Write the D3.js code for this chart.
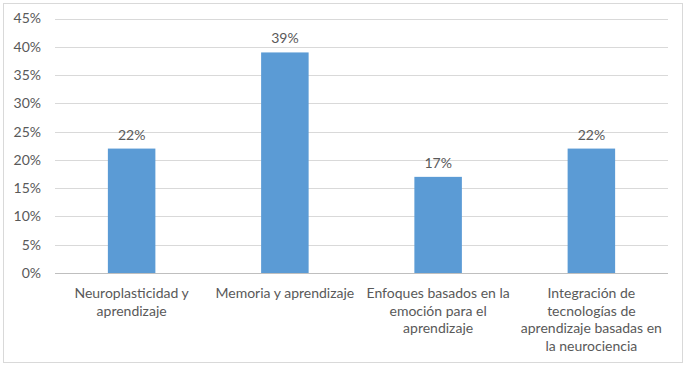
<!DOCTYPE html>
<html><head><meta charset="utf-8">
<script src="https://cdn.jsdelivr.net/npm/d3@7"></script>
<style>body{margin:0;background:#fff}svg text{font-family:Lato,"Open Sans",sans-serif;fill:#595959}</style>
</head><body>
<svg id="c" width="686" height="367"></svg>
<script>
const categories = ["Neuroplasticidad y aprendizaje","Memoria y aprendizaje","Enfoques basados en la emoción para el aprendizaje","Integración de tecnologías de aprendizaje basadas en la neurociencia"];
const categoryLines = [["Neuroplasticidad y","aprendizaje"],["Memoria y aprendizaje"],["Enfoques basados en la","emoción para el","aprendizaje"],["Integración de","tecnologías de","aprendizaje basadas en","la neurociencia"]];
const values = [0.22,0.39,0.17,0.22];
const yTicks = [0,0.05,0.10,0.15,0.20,0.25,0.30,0.35,0.40,0.45];

const svg = d3.select("#c");
svg.append("rect").attr("x",3.5).attr("y",3.5).attr("width",679).attr("height",359).attr("fill","#fff").attr("stroke","#d9d9d9");
const L=55,R=668,T=18.5,B=273;
const x = d3.scaleBand().domain(categories).range([L,R]).paddingInner(0.69).paddingOuter(0.345);
const y = d3.scaleLinear().domain([0,0.45]).range([B,T]);
const fmt = d3.format(".0%");
svg.append("g").selectAll("line").data(yTicks).join("line")
  .attr("x1",L).attr("x2",R).attr("y1",d=>Math.round(y(d))+0.5).attr("y2",d=>Math.round(y(d))+0.5)
  .attr("stroke",d=>d===0?"#bfbfbf":"#d9d9d9");
svg.append("g").selectAll("text").data(yTicks).join("text")
  .attr("x",41).attr("y",d=>y(d)).attr("dy","0.35em").attr("text-anchor","end").style("font-size","14px").text(fmt);
svg.append("g").selectAll("rect").data(values).join("rect")
  .attr("x",(d,i)=>x(categories[i])).attr("width",x.bandwidth())
  .attr("y",d=>y(d)).attr("height",d=>B-y(d)).attr("fill","#5B9BD5");
svg.append("g").selectAll("text").data(values).join("text")
  .attr("x",(d,i)=>x(categories[i])+x.bandwidth()/2).attr("y",d=>y(d)-9)
  .attr("text-anchor","middle").style("font-size","14px").text(fmt);
const g = svg.append("g");
categoryLines.forEach((lines,i)=>{
  const cx = x(categories[i])+x.bandwidth()/2;
  lines.forEach((t,j)=>{
    g.append("text").attr("x",cx).attr("y",298+j*17.7).attr("text-anchor","middle").style("font-size","14px").text(t);
  });
});
</script>
</body></html>
